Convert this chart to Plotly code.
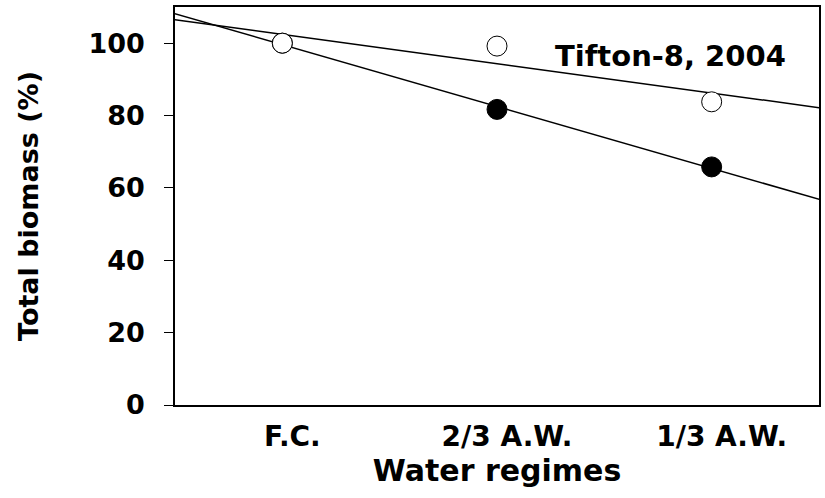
import numpy as np
import plotly.graph_objects as go

categories = ["F.C.", "2/3 A.W.", "1/3 A.W."]
x_pos = [1, 2, 3]
open_vals = [100.0, 99.2, 83.8]
filled_vals = [100.0, 81.7, 65.8]
y_ticks = [0, 20, 40, 60, 80, 100]
annotation_text = "Tifton-8, 2004"

FONT = "DejaVu Sans, sans-serif"

fig = go.Figure()

xr = np.array([0.3, 3.7])
for vals in (open_vals, filled_vals):
    k, b = np.polyfit(x_pos, vals, 1)
    fig.add_trace(go.Scatter(x=xr, y=k * xr + b, mode="lines",
                             line=dict(color="black", width=1.5),
                             showlegend=False, hoverinfo="skip"))

fig.add_trace(go.Scatter(x=x_pos, y=filled_vals, mode="markers",
                         marker=dict(size=20, color="black",
                                     line=dict(color="black", width=1)),
                         showlegend=False))
fig.add_trace(go.Scatter(x=x_pos, y=open_vals, mode="markers",
                         marker=dict(size=20, color="white",
                                     line=dict(color="black", width=1)),
                         showlegend=False))

fig.add_annotation(x=2.81, y=96.5, xref="x", yref="y", text=annotation_text,
                   showarrow=False,
                   font=dict(family=FONT, size=29, color="black", weight="bold"))

fig.update_layout(
    width=825, height=498,
    margin=dict(l=175, r=4, t=7, b=93),
    paper_bgcolor="white", plot_bgcolor="white",
    font=dict(family=FONT, color="black"),
)
fig.update_xaxes(range=[0.5, 3.5], tickvals=x_pos, ticktext=categories,
                 showline=True, linecolor="black", linewidth=1.5, mirror=True,
                 showgrid=False, zeroline=False, ticks="",
                 ticklabelstandoff=6, ticklabelshift=10,
                 tickfont=dict(family=FONT, size=28, weight="bold"),
                 title=dict(text="Water regimes", standoff=6,
                            font=dict(family=FONT, size=30, weight="bold")))
fig.update_yaxes(range=[0, 110], tickvals=y_ticks,
                 showline=True, linecolor="black", linewidth=1.5, mirror=True,
                 showgrid=False, zeroline=False, ticks="outside", ticklen=9,
                 tickcolor="black", ticklabelstandoff=14,
                 tickfont=dict(family=FONT, size=27, weight="bold"),
                 title=dict(text="Total biomass (%)", standoff=42,
                            font=dict(family=FONT, size=27, weight="bold")))

fig.write_html("out.html")
